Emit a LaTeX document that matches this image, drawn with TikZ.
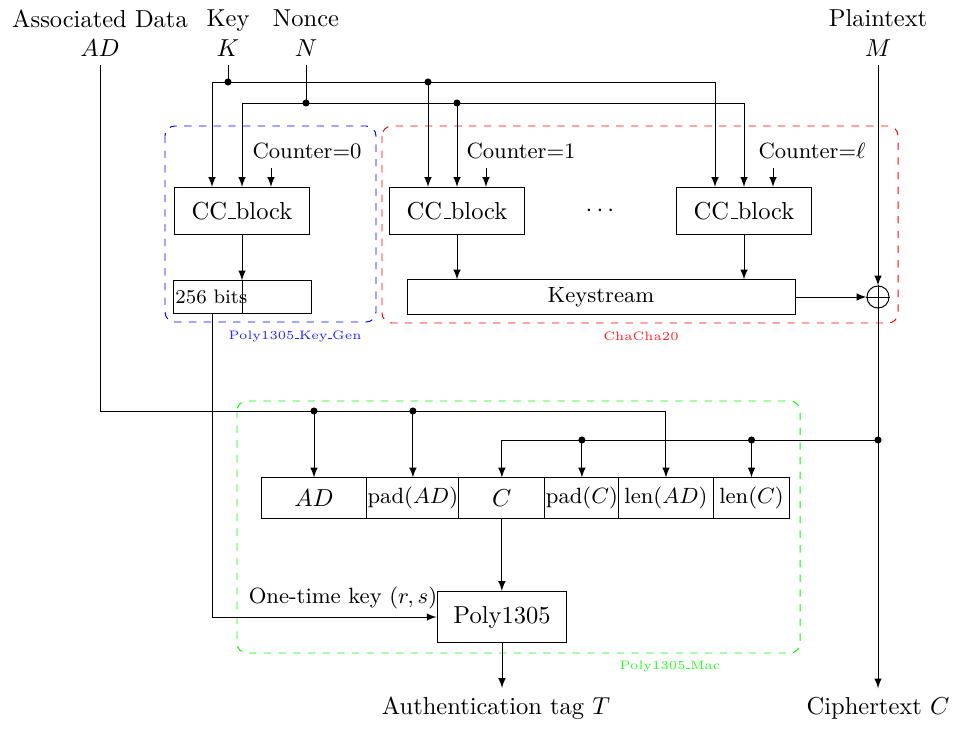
\documentclass[tikz,border=0pt]{standalone}
\usetikzlibrary{positioning,calc,arrows}

\newcommand{\ubar}{\kern.06em\vbox{\hrule width.3em}}
\tikzset{
	blk/.style={draw,inner sep=0,minimum width=54.7pt,minimum height=19.2pt},
	cell/.style={draw,inner sep=0,outer sep=0,minimum height=16.7pt},
	dot/.style={circle,fill=black,inner sep=0,outer sep=0,minimum size=2.9pt},
	lbl/.style={align=center},
}

\begin{document}
\begin{tikzpicture}[x=0.408pt,y=-0.408pt,>=latex]
	\useasboundingbox (0,0) rectangle (960,730);
	% groups
	\draw[blue,dashed,rounded corners] (165,126) rectangle (376,322);
	\node[blue!85,font=\tiny] (kglbl) at (295,336) {Poly1305\ubar Key\ubar Gen};
	\draw[red,dashed,rounded corners] (382,126) rectangle (898,323);
	\node[red!85,font=\tiny] (cclbl) at (641,336) {ChaCha20};
	\draw[green,dashed,rounded corners] (237,401) rectangle (800,653);
	\node[green!85,font=\tiny] (maclbl) at (670,666) {Poly1305\ubar Mac};
	% inputs and outputs
	\node[lbl] (adin) at (100,33) {Associated Data\\$AD$};
	\node[lbl] (keyin) at (228,33) {Key\\$K$};
	\node[lbl] (nonce) at (306,33) {Nonce\\$N$};
	\node[lbl] (pt) at (878,33) {Plaintext\\$M$};
	\node (tag) at (496,708) {Authentication tag $T$};
	\node (ct) at (878,708) {Ciphertext $C$};
	% chacha blocks
	\node[blk] (cc0) at (242,211) {CC\ubar block};
	\node[blk] (cc1) at (457,211) {CC\ubar block};
	\node[blk] (cc2) at (744,211) {CC\ubar block};
	\node (dots) at (600,211) {$\cdots$};
	\node[font=\small] (cnt0) at (307,151) {Counter=0};
	\node[font=\small] (cnt1) at (521,151) {Counter=1};
	\node[font=\small] (cnt2) at (812,151) {Counter=$\ell$};
	\node[draw,inner sep=0,minimum width=56.3pt,minimum height=13.1pt] (bits) at (242,297) {};
	\node[font=\footnotesize,anchor=west,inner sep=1pt] (bitstxt) at (bits.west) {256 bits};
	\node[draw,inner sep=0,minimum width=158.3pt,minimum height=13.9pt,font=\small] (ks) at (601,297) {Keystream};
	\node[draw,circle,inner sep=0,minimum size=9pt] (xor) at (878,297) {};
	\draw (xor.north) -- (xor.south) (xor.west) -- (xor.east);
	% mac input
	\node[cell,minimum width=43.2pt] (adc) at (314,498) {$AD$};
	\node[cell,minimum width=37.5pt,right=0pt of adc,font=\small] (padad) {pad($AD$)};
	\node[cell,minimum width=35.1pt,right=0pt of padad] (cbox) {$C$};
	\node[cell,minimum width=30.2pt,right=0pt of cbox,font=\small] (padc) {pad($C$)};
	\node[cell,minimum width=38.4pt,right=0pt of padc,font=\small] (lenad) {len($AD$)};
	\node[cell,minimum width=31.4pt,right=0pt of lenad,font=\small] (lenc) {len($C$)};
	\node[draw,inner sep=0,minimum width=53pt,minimum height=20.8pt] (poly) at (502,617) {Poly1305};
	\node[font=\small] (otk) at (343,598) {One-time key $(r,s)$};
	% buses
	\coordinate (kbus) at (0,82);
	\coordinate (nbus) at (0,103);
	\coordinate (adbus) at (0,411);
	\coordinate (cbus) at (0,440);
	\coordinate (k0) at ($(cc0.north)+(-30,0)$);
	\coordinate (k1) at ($(cc1.north)+(-29,0)$);
	\coordinate (k2) at ($(cc2.north)+(-29,0)$);
	\coordinate (q0) at ($(cc0.north)+(29,0)$);
	\coordinate (q1) at ($(cc1.north)+(29,0)$);
	\coordinate (q2) at ($(cc2.north)+(29,0)$);
	\coordinate (bk) at ($(bits.south)+(-30,0)$);
	% key
	\node[dot] (kd) at (keyin.south |- kbus) {};
	\node[dot] (kd1) at (k1 |- kbus) {};
	\draw (keyin.south) -- (kd.center);
	\draw[->] (kd.center) -| (k0);
	\draw[->] (kd.center) -| (k2);
	\draw[->] (kd1.center) -- (k1);
	% nonce
	\node[dot] (nd) at (nonce.south |- nbus) {};
	\node[dot] (nd1) at (cc1.north |- nbus) {};
	\draw (nonce.south) -- (nd.center);
	\draw[->] (nd.center) -| (cc0.north);
	\draw[->] (nd.center) -| (cc2.north);
	\draw[->] (nd1.center) -- (cc1.north);
	% counters
	\draw[->] (q0 |- cnt0.south) -- (q0);
	\draw[->] (q1 |- cnt1.south) -- (q1);
	\draw[->] (q2 |- cnt2.south) -- (q2);
	% keystream
	\draw[->] (cc0) -- (bits);
	\draw (bits.north) -- (bits.south);
	\draw[->] (cc1) -- (cc1 |- ks.north);
	\draw[->] (cc2) -- (cc2 |- ks.north);
	\draw[->] (ks) -- (xor);
	\draw[->] (pt.south) -- (xor);
	\draw[->] (xor) -- (xor |- ct.north);
	% associated data
	\node[dot] (add0) at (adc.north |- adbus) {};
	\node[dot] (add1) at (padad.north |- adbus) {};
	\draw[->] (adin.south) |- (lenad.north |- adbus) -- (lenad.north);
	\draw[->] (add0.center) -- (adc.north);
	\draw[->] (add1.center) -- (padad.north);
	% ciphertext
	\node[dot] (cd) at (xor |- cbus) {};
	\node[dot] (cd1) at (padc.north |- cbus) {};
	\node[dot] (cd2) at (lenc.north |- cbus) {};
	\draw[->] (cd.center) -| (cbox.north);
	\draw[->] (cd1.center) -- (padc.north);
	\draw[->] (cd2.center) -- (lenc.north);
	% mac
	\draw[->] (bk) |- (poly);
	\draw[->] (cbox) -- (cbox |- poly.north);
	\draw[->] (poly) -- (poly |- tag.north);
\end{tikzpicture}
\end{document}
